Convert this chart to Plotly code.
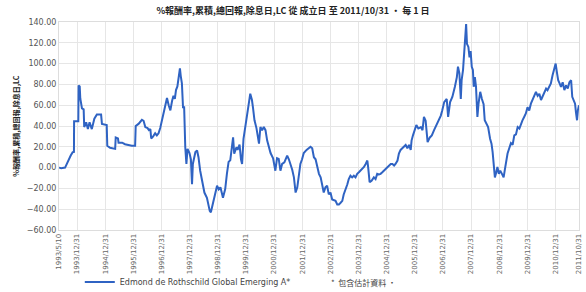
import pandas as pd
import plotly.graph_objects as go

# ---- data (decimal year, cumulative % return) ----
years = [
    1993.355, 1993.43, 1993.57, 1993.63, 1993.69, 1993.77, 1993.84, 1993.885, 1993.89,
    1994.04, 1994.05, 1994.09, 1994.11, 1994.17, 1994.23, 1994.25, 1994.32, 1994.38,
    1994.44, 1994.52, 1994.61, 1994.70, 1994.85, 1994.88, 1995.05, 1995.07, 1995.17,
    1995.29, 1995.35, 1995.37, 1995.45, 1995.47, 1995.60, 1995.70, 1995.94, 1996.06,
    1996.08, 1996.18, 1996.24, 1996.30, 1996.36, 1996.42, 1996.50, 1996.55, 1996.60,
    1996.63, 1996.70, 1996.77, 1996.83, 1996.89, 1996.95, 1996.99, 1997.04, 1997.07,
    1997.13, 1997.19, 1997.25, 1997.31, 1997.37, 1997.42, 1997.47, 1997.51, 1997.56,
    1997.58, 1997.62, 1997.65, 1997.68, 1997.70, 1997.72, 1997.76, 1997.80, 1997.84,
    1997.88, 1997.92, 1997.99, 1998.04, 1998.08, 1998.11, 1998.20, 1998.26, 1998.31,
    1998.37, 1998.43, 1998.52, 1998.61, 1998.71, 1998.75, 1998.82, 1998.91, 1998.97,
    1999.03, 1999.09, 1999.18, 1999.26, 1999.32, 1999.38, 1999.44, 1999.50, 1999.54,
    1999.58, 1999.66, 1999.70, 1999.77, 1999.82, 1999.86, 1999.91, 1999.98, 2000.04,
    2000.09, 2000.15, 2000.21, 2000.25, 2000.30, 2000.37, 2000.41, 2000.46, 2000.51,
    2000.57, 2000.63, 2000.69, 2000.75, 2000.81, 2000.87, 2000.96, 2001.04, 2001.10,
    2001.16, 2001.22, 2001.28, 2001.36, 2001.46, 2001.52, 2001.58, 2001.64, 2001.70,
    2001.76, 2001.82, 2001.87, 2001.93, 2001.99, 2002.05, 2002.15, 2002.23, 2002.29,
    2002.35, 2002.41, 2002.47, 2002.53, 2002.59, 2002.65, 2002.71, 2002.76, 2002.82,
    2002.88, 2002.94, 2003.00, 2003.06, 2003.18, 2003.24, 2003.30, 2003.36, 2003.42,
    2003.47, 2003.54, 2003.60, 2003.65, 2003.71, 2003.77, 2003.83, 2003.89, 2003.95,
    2004.01, 2004.07, 2004.13, 2004.19, 2004.25, 2004.31, 2004.34, 2004.39, 2004.46,
    2004.54, 2004.60, 2004.66, 2004.72, 2004.78, 2004.84, 2004.90, 2004.96, 2005.02,
    2005.08, 2005.14, 2005.20, 2005.26, 2005.31, 2005.38, 2005.43, 2005.49, 2005.55,
    2005.61, 2005.67, 2005.73, 2005.79, 2005.85, 2005.88, 2005.93, 2006.00, 2006.05,
    2006.12, 2006.21, 2006.27, 2006.32, 2006.38, 2006.42, 2006.45, 2006.53, 2006.60,
    2006.68, 2006.76, 2006.86, 2006.92, 2006.97, 2007.04, 2007.13, 2007.18, 2007.25,
    2007.33, 2007.42, 2007.49, 2007.53, 2007.58, 2007.63, 2007.66, 2007.71, 2007.75,
    2007.78, 2007.82, 2007.85, 2007.90, 2007.94, 2007.98, 2008.02, 2008.06, 2008.09,
    2008.13, 2008.17, 2008.22, 2008.26, 2008.32, 2008.38, 2008.44, 2008.48, 2008.54,
    2008.60, 2008.67, 2008.72, 2008.76, 2008.79, 2008.84, 2008.89, 2008.93, 2008.98,
    2009.03, 2009.09, 2009.15, 2009.20, 2009.24, 2009.29, 2009.35, 2009.41, 2009.47,
    2009.53, 2009.59, 2009.65, 2009.71, 2009.76, 2009.82, 2009.88, 2009.94, 2010.00,
    2010.06, 2010.12, 2010.18, 2010.24, 2010.30, 2010.36, 2010.42, 2010.48, 2010.54,
    2010.60, 2010.66, 2010.71, 2010.77, 2010.83, 2010.89, 2010.95, 2011.00, 2011.05,
    2011.09, 2011.14, 2011.19, 2011.25, 2011.31, 2011.37, 2011.43, 2011.49, 2011.55,
    2011.59, 2011.64, 2011.69, 2011.72, 2011.76, 2011.79, 2011.83,
]
returns = [
    0.0, -0.5, 0.0, 3.5, 8.4, 11.6, 14.8, 15.0, 44.5,
    44.5, 79.0, 78.0, 66.5, 57.0, 56.0, 39.0, 43.5, 37.0,
    43.5, 37.0, 47.0, 51.0, 51.0, 42.0, 41.0, 21.0, 19.0,
    18.0, 18.0, 29.0, 28.0, 24.0, 24.0, 22.5, 21.0, 21.0,
    40.0, 42.0, 44.0, 46.0, 45.0, 39.0, 38.0, 36.0, 37.0,
    28.0, 30.0, 33.0, 31.0, 33.0, 38.0, 43.0, 47.0, 52.0,
    58.0, 67.0, 60.0, 55.0, 64.0, 69.0, 66.0, 74.5, 78.0,
    82.5, 88.0, 95.5, 88.0, 84.0, 81.0, 58.0, 58.0, 19.6,
    3.5, 18.0, 14.0, 8.0, -16.0, 3.5, 15.0, 16.5, 10.0,
    -3.0, -12.6, -24.0, -29.0, -41.6, -43.0, -34.0, -24.0, -17.4,
    -21.0, -19.0, -29.0, -20.6, -6.0, 5.5, 7.0, 19.6, 29.0,
    13.5, 19.6, 17.0, 22.0, 8.0, 3.5, 27.6, 42.0, 52.0,
    60.0, 71.0, 65.0, 57.0, 45.5, 38.0, 32.0, 23.0, 39.0,
    36.0, 39.0, 36.0, 26.0, 18.6, 14.0, 9.0, -3.0, 9.0,
    8.4, -3.0, 3.5, 5.0, 11.6, 8.0, 3.5, -2.0, -9.4,
    -24.0, -19.0, -6.0, 3.5, 8.0, 14.0, 17.0, 18.6, 20.0,
    18.6, 10.0, 8.0, -0.3, -6.0, -9.4, -16.0, -24.0, -19.0,
    -17.4, -25.8, -24.0, -30.6, -32.0, -35.5, -35.5, -33.8, -32.0,
    -25.8, -21.0, -16.0, -11.0, -7.8, -9.4, -7.8, -9.4, -6.0,
    -4.5, -3.0, -1.0, 0.6, 3.5, 6.8, 0.0, -14.0, -12.6,
    -9.4, -11.0, -6.0, -6.5, -6.0, -4.5, -3.0, -1.0, 0.6,
    2.0, 3.5, 3.5, 2.0, 3.5, 6.8, 13.5, 17.0, 18.6,
    20.0, 21.8, 18.6, 21.8, 17.0, 26.0, 31.0, 36.0, 41.0,
    37.6, 39.0, 36.0, 48.7, 45.0, 31.0, 24.5, 29.0, 31.0,
    36.0, 41.0, 47.0, 50.0, 55.0, 63.0, 66.0, 48.7, 63.0,
    68.0, 77.7, 87.0, 97.0, 90.7, 66.0, 84.0, 94.0, 110.0,
    123.0, 138.0, 119.0, 116.0, 106.0, 112.0, 97.0, 94.0, 77.7,
    87.0, 78.0, 48.7, 61.5, 72.9, 66.0, 61.0, 45.5, 42.0,
    39.0, 27.7, 23.0, 14.8, 3.5, -9.4, -4.5, 0.6, -6.0,
    -3.0, -6.0, -9.4, -1.0, 6.8, 13.5, 18.6, 23.5, 22.0,
    31.0, 32.0, 39.0, 37.6, 42.0, 45.5, 48.7, 52.0, 58.0,
    55.0, 61.5, 65.0, 68.0, 72.9, 69.0, 71.0, 65.0, 69.0,
    72.9, 76.0, 74.5, 77.7, 81.0, 88.7, 95.5, 100.0, 90.7,
    84.0, 81.0, 77.7, 82.0, 74.5, 79.0, 76.0, 82.0, 84.0,
    68.0, 65.0, 61.5, 53.6, 45.5, 55.0, 60.0,
]

tick_dates = [
    "1993-05-10", "1993-12-31", "1994-12-31", "1995-12-31", "1996-12-31",
    "1997-12-31", "1998-12-31", "1999-12-31", "2000-12-31", "2001-12-31",
    "2002-12-31", "2003-12-31", "2004-12-31", "2005-12-31", "2006-12-31",
    "2007-12-31", "2008-12-31", "2009-12-31", "2010-12-31", "2011-10-31",
]
tick_labels = [
    "1993/5/10", "1993/12/31", "1994/12/31", "1995/12/31", "1996/12/31",
    "1997/12/31", "1998/12/31", "1999/12/31", "2000/12/31", "2001/12/31",
    "2002/12/31", "2003/12/31", "2004/12/31", "2005/12/31", "2006/12/31",
    "2007/12/31", "2008/12/31", "2009/12/31", "2010/12/31", "2011/10/31",
]

series_name = "Edmond de Rothschild Global Emerging A*"
title_text = "%報酬率,累積,總回報,除息日,LC 從 成立日 至 2011/10/31 • 每 1 日"
ytitle_text = "%報酬率,累積,總回報,除息日,LC"
note_text = "*  包含估計資料 •"


def to_date(y):
    yr = int(y)
    start = pd.Timestamp(year=yr, month=1, day=1)
    end = pd.Timestamp(year=yr + 1, month=1, day=1)
    return start + (end - start) * (y - yr)


dates = [to_date(y) for y in years]

CJK = "Noto Sans CJK TC, DejaVu Sans, sans-serif"
LAT = "DejaVu Sans, Verdana, sans-serif"

fig = go.Figure()
fig.add_trace(go.Scatter(
    x=dates, y=returns, mode="lines", name=series_name,
    line=dict(color="#2F63C3", width=2),
))

fig.update_layout(
    width=586, height=292,
    margin=dict(l=59, r=7, t=22, b=62, autoexpand=False),
    paper_bgcolor="white", plot_bgcolor="white",
    title=dict(text=title_text, x=0.5, xanchor="center", y=0.962, yanchor="middle",
               yref="container",
               font=dict(family=CJK, size=9, color="#222", weight="bold")),
    showlegend=True,
    legend=dict(orientation="h", x=0.04, xanchor="left", y=-0.25, yanchor="middle",
                font=dict(family=LAT, size=8, color="#444"),
                itemwidth=30, bgcolor="rgba(0,0,0,0)"),
    xaxis=dict(
        type="date",
        range=["1993-05-10", "2011-10-31"],
        tickmode="array", tickvals=tick_dates, ticktext=tick_labels,
        tickangle=-90, tickfont=dict(family=LAT, size=7, color="#666"),
        showgrid=True, gridcolor="#E6E6E6", gridwidth=1,
        showline=True, linecolor="#DDDDDD", mirror=True,
        ticks="", zeroline=False,
    ),
    yaxis=dict(
        range=[-60, 140], dtick=20, tick0=0, tickformat=".2f",
        tickfont=dict(family=LAT, size=8, color="#555"),
        showgrid=True, gridcolor="#E6E6E6", gridwidth=1,
        showline=True, linecolor="#DDDDDD", mirror=True,
        ticks="", zeroline=False,
    ),
    annotations=[
        dict(text=ytitle_text, xref="paper", yref="paper", x=-0.083, y=0.5,
             xanchor="center", yanchor="middle", textangle=-90, showarrow=False,
             font=dict(family=CJK, size=7, color="#222", weight="bold")),
        dict(text=note_text, xref="paper", yref="paper", x=0.52, y=-0.25,
             xanchor="left", yanchor="middle", showarrow=False,
             font=dict(family=CJK, size=8, color="#444")),
    ],
)

fig.write_html(
    "out.html",
    config={"displayModeBar": False},
    post_script="document.body.style.margin='0';document.body.style.padding='0';",
)
